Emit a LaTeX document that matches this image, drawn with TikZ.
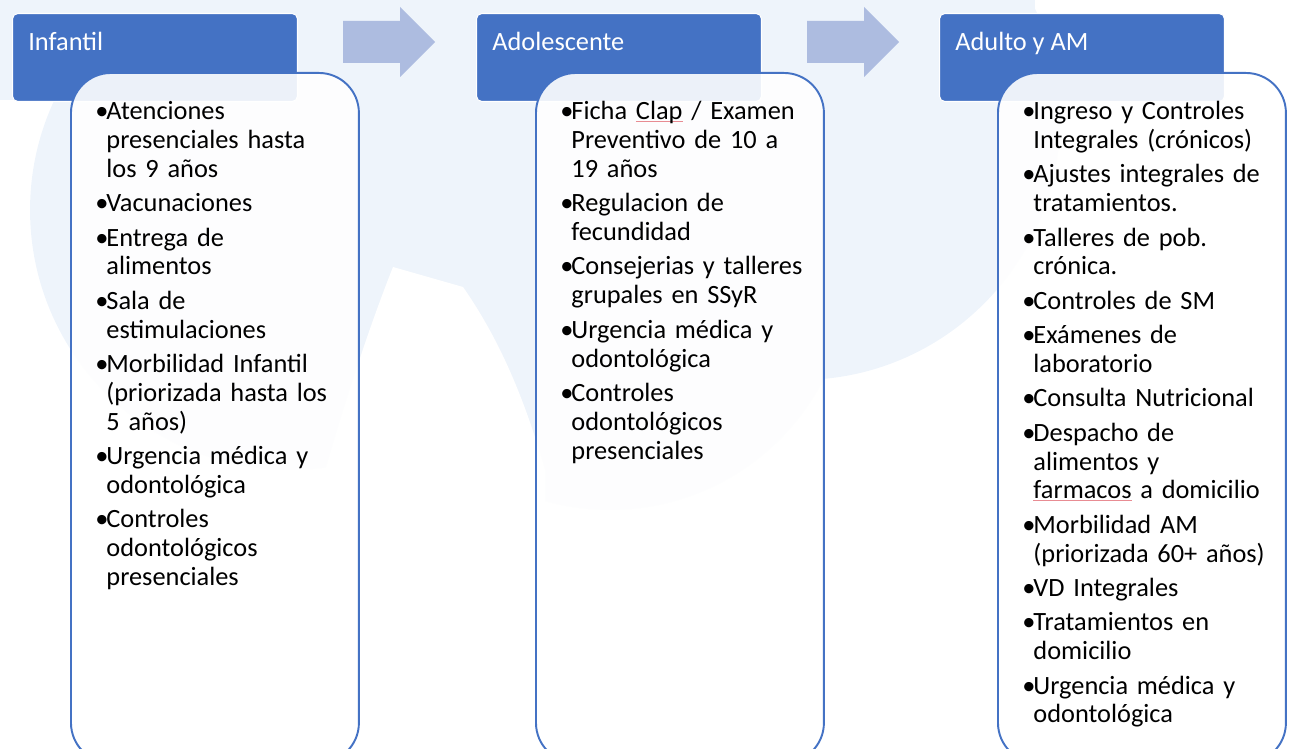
\documentclass[tikz,border=0pt]{standalone}
\usepackage{fontspec}
\setmainfont{Carlito}
\usepackage{xcolor}
\usetikzlibrary{positioning}

\definecolor{hdblue}{HTML}{4472C4}
\definecolor{arrowblue}{HTML}{ADBCE0}
\definecolor{wmblue}{HTML}{EEF4FB}
\definecolor{spellred}{HTML}{E88C93}

\newcommand{\bitem}[1]{\par\hangindent=6.3pt\hangafter=1\noindent\strut\makebox[6.3pt][l]{•}#1\par}
\newcommand{\spellmark}[1]{\setbox0\hbox{#1}\rlap{\color{spellred}\rule[-1.3pt]{\wd0}{0.5pt}}\box0\relax}

\begin{document}
\begin{tikzpicture}[x=0.02cm,y=-0.02cm,
	header/.style={rectangle,fill=hdblue,draw=white,line width=0.6pt,rounded corners=3pt,minimum width=5.7cm,minimum height=1.76cm,anchor=north west},
	bodybox/.style={rectangle,fill=white,fill opacity=0.9,draw=hdblue,line width=1.1pt,rounded corners=0.8cm,minimum width=5.76cm,minimum height=13.8cm,anchor=north west},
	headtext/.style={anchor=base west,inner sep=0pt,text=white,font=\fontsize{15pt}{16.44pt}\selectfont},
	bodytext/.style={anchor=north west,inner sep=0pt,text width=5.3cm,align=left,font=\fontsize{15pt}{16.44pt}\selectfont},
	flowarrow/.style={fill=arrowblue}]

	\useasboundingbox (0,0) rectangle (1290,749);
	\clip (0,0) rectangle (1290,749);

		\fill[wmblue] (0,0) rectangle (1035,100);
		\fill[wmblue] (290,210) circle[radius=5.2cm];
		\fill[wmblue] (610,270) circle[radius=4.8cm];
		\fill[wmblue] (800,120) circle[radius=5.2cm];
		\fill[white] (393,267) -- (463,287) .. controls (500,340) and (525,400) .. (545,470)
			-- (545,560) -- (300,560) .. controls (330,450) and (360,350) .. (393,267) -- cycle;

		\fill[flowarrow] (343,21) -- (400,21) -- (400,7) -- (435,42) -- (400,77) -- (400,63) -- (343,63) -- cycle;
		\fill[flowarrow] (807,21) -- (864,21) -- (864,7) -- (899,42) -- (864,77) -- (864,63) -- (807,63) -- cycle;

		\node[header] (hInf) at (12,13) {};
		\node[header] (hAdo) at (476,13) {};
		\node[header] (hAdu) at (939,13) {};

		\node[bodybox] (bInf) at (70,72) {};
		\node[bodybox] (bAdo) at (535,72) {};
		\node[bodybox] (bAdu) at (997,72) {};

		\node[headtext] (lInf) at (28,51) {Infantil};
		\node[headtext] (lAdo) at (492,51) {Adolescente};
		\node[headtext] (lAdu) at (955,51) {Adulto y AM};

		\node[bodytext] (tInf) at (95,85) {\setlength{\parskip}{3.1pt}%
			\bitem{Atenciones\newline presenciales hasta\newline los 9 años}
			\bitem{Vacunaciones}
			\bitem{Entrega de\newline alimentos}
			\bitem{Sala de\newline estimulaciones}
			\bitem{Morbilidad Infantil\newline (priorizada hasta los\newline 5 años)}
			\bitem{Urgencia médica y\newline odontológica}
			\bitem{Controles\newline odontológicos\newline presenciales}};

		\node[bodytext] (tAdo) at (560,85) {\setlength{\parskip}{3.1pt}%
			\bitem{Ficha \spellmark{Clap} / Examen\newline Preventivo de 10 a\newline 19 años}
			\bitem{Regulacion de\newline fecundidad}
			\bitem{Consejerias y talleres\newline grupales en SSyR}
			\bitem{Urgencia médica y\newline odontológica}
			\bitem{Controles\newline odontológicos\newline presenciales}};

		\node[bodytext] (tAdu) at (1022,85) {\setlength{\parskip}{3.1pt}%
			\bitem{Ingreso y Controles\newline Integrales (crónicos)}
			\bitem{Ajustes integrales de\newline tratamientos.}
			\bitem{Talleres de pob.\newline crónica.}
			\bitem{Controles de SM}
			\bitem{Exámenes de\newline laboratorio}
			\bitem{Consulta Nutricional}
			\bitem{Despacho de\newline alimentos y\newline \spellmark{farmacos} a domicilio}
			\bitem{Morbilidad AM\newline (priorizada 60+ años)}
			\bitem{VD Integrales}
			\bitem{Tratamientos en\newline domicilio}
			\bitem{Urgencia médica y\newline odontológica}};

\end{tikzpicture}
\end{document}
